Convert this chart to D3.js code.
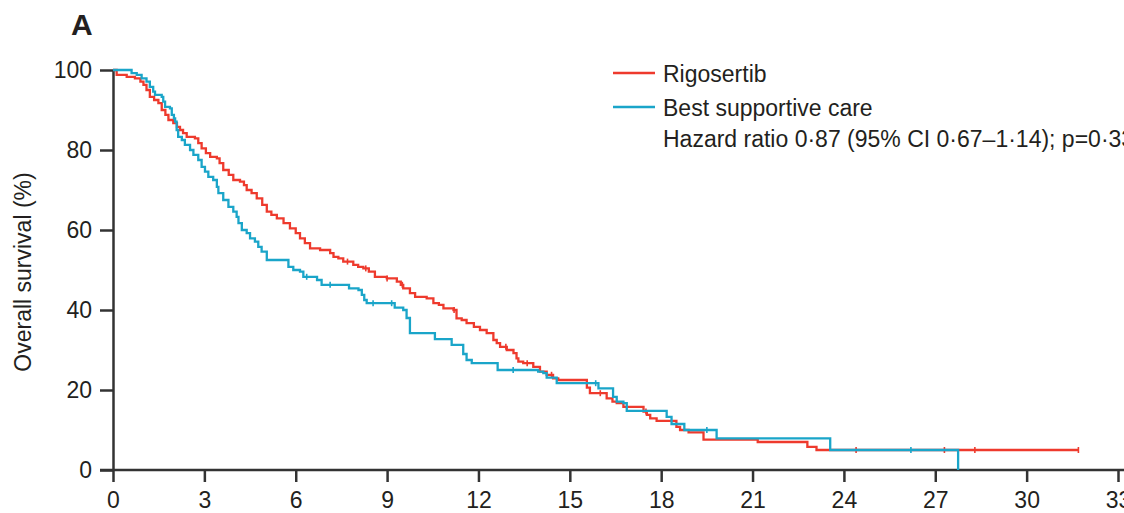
<!DOCTYPE html>
<html>
<head>
<meta charset="utf-8">
<script src="https://cdn.jsdelivr.net/npm/d3@7/dist/d3.min.js"></script>
<style>
  html, body { margin: 0; padding: 0; background: #fff; }
  svg { display: block; }
  text { font-family: "Liberation Sans", Arial, sans-serif; fill: #231f20; }
</style>
</head>
<body>
<svg id="chart" width="1124" height="513"></svg>
<script>
// Kaplan-Meier overall survival, step points [month, survival %]
const rigosertibSteps = [
  [0,100],[0.12,98.8],[0.45,98.3],[0.72,97.9],[0.9,97.1],[1.0,96.3],[1.1,95.0],[1.21,93.3],
  [1.35,92.5],[1.49,91.7],[1.6,90.0],[1.72,88.8],[1.82,87.5],[1.98,86.7],[2.1,85.8],[2.2,85.0],
  [2.3,84.2],[2.42,83.3],[2.69,82.9],[2.8,81.7],[2.91,80.4],[3.05,79.2],[3.19,78.3],[3.41,77.9],
  [3.5,76.7],[3.62,75.0],[3.8,73.8],[3.95,72.5],[4.17,72.1],[4.3,71.2],[4.39,70.0],[4.55,69.2],
  [4.72,67.9],[4.9,66.3],[5.05,64.6],[5.2,63.8],[5.38,62.9],[5.6,61.7],[5.81,60.4],[6.0,59.2],
  [6.14,57.9],[6.3,56.7],[6.47,55.4],[6.8,55.0],[7.13,54.2],[7.24,53.3],[7.4,52.9],[7.56,52.1],
  [7.89,51.3],[8.05,50.8],[8.22,50.4],[8.4,49.6],[8.6,48.3],[8.99,47.9],[9.32,47.1],[9.45,46.3],
  [9.53,45.4],[9.75,44.2],[9.92,43.3],[10.3,42.9],[10.52,41.7],[10.7,41.3],[10.85,40.4],[11.18,40.0],
  [11.28,37.9],[11.45,37.5],[11.61,36.7],[11.85,35.8],[12.05,35.0],[12.27,34.2],[12.49,32.5],[12.6,31.7],
  [12.71,30.8],[12.93,30.0],[13.15,29.2],[13.25,27.9],[13.31,27.1],[13.47,26.7],[13.8,25.8],[14.02,24.6],
  [14.24,23.8],[14.45,22.9],[14.62,22.5],[15.56,20.6],[15.66,19.2],[16.21,17.9],[16.4,17.1],[16.54,16.7],
  [16.76,15.8],[17.42,14.6],[17.53,13.8],[17.64,12.9],[17.85,12.3],[18.5,10.8],[18.62,10.0],[18.9,9.4],
  [19.39,7.6],[21.17,7.0],[22.8,5.8],[23.1,5.0],[31.7,5.0]
];
const bscSteps = [
  [0,100],[0.61,99.2],[0.78,98.8],[0.94,97.9],[1.1,97.1],[1.21,95.8],[1.32,94.6],[1.38,93.8],
  [1.6,93.3],[1.65,92.1],[1.71,90.8],[1.87,90.4],[1.93,88.8],[2.0,87.9],[2.04,87.1],[2.09,85.0],
  [2.14,83.3],[2.26,82.5],[2.36,81.3],[2.53,80.0],[2.64,78.8],[2.8,77.5],[2.91,75.8],[3.02,74.6],
  [3.13,73.3],[3.29,72.5],[3.41,70.8],[3.46,69.2],[3.62,67.5],[3.79,65.8],[3.95,64.6],[4.06,63.3],
  [4.12,61.7],[4.23,60.0],[4.39,59.2],[4.5,57.9],[4.66,57.1],[4.77,55.8],[4.88,54.6],[5.05,52.5],
  [5.76,50.8],[5.92,50.0],[6.14,49.6],[6.25,48.3],[6.7,47.5],[6.85,46.3],[7.75,45.4],[8.06,45.0],
  [8.17,43.8],[8.25,42.5],[8.33,41.7],[9.25,40.6],[9.53,40.0],[9.64,38.0],[9.75,34.2],[10.57,32.7],
  [11.12,31.3],[11.5,29.0],[11.61,27.5],[11.78,26.7],[12.63,25.0],[13.96,24.6],[14.13,24.2],[14.24,23.1],
  [14.57,21.7],[15.94,20.4],[16.42,18.3],[16.54,17.1],[16.76,16.7],[16.87,14.8],[18.18,13.3],[18.34,11.5],
  [18.76,10.0],[19.82,7.9],[23.55,5.0],[27.75,0]
];
// Censored observations (months)
const rigosertibCensored = [7.7, 8.3, 9.0, 9.5, 11.2, 12.9, 13.6, 14.4, 16.0, 17.5, 24.4, 27.3, 28.3, 31.7];
const bscCensored = [6.36, 7.13, 8.54, 9.15, 13.14, 15.85, 19.5, 26.2];

const monthTicks = [0, 3, 6, 9, 12, 15, 18, 21, 24, 27, 30, 33];
const survivalTicks = [0, 20, 40, 60, 80, 100];

const seriesNames = ["Rigosertib", "Best supportive care"];
const seriesColors = ["#ee3a2d", "#1aa5c9"];
const statsText = "Hazard ratio 0·87 (95% CI 0·67–1·14); p=0·33";

const svg = d3.select("#chart");
const x = d3.scaleLinear().domain([0, 33]).range([113, 1118]);
const y = d3.scaleLinear().domain([0, 100]).range([470, 70]);
const axisColor = "#333";

// panel letter
svg.append("text").attr("x", 71).attr("y", 35)
  .style("font-size", "30px").style("font-weight", "bold").text("A");

// y axis
const yAxis = svg.append("g").attr("transform", `translate(${x(0)},0)`)
  .call(d3.axisLeft(y).tickValues(survivalTicks).tickSize(13).tickSizeOuter(0).tickPadding(8));
yAxis.select(".domain").attr("stroke", axisColor).attr("stroke-width", 2.5);
yAxis.selectAll(".tick line").attr("stroke", axisColor).attr("stroke-width", 2.5);
yAxis.selectAll(".tick text").style("font-size", "23px").style("font-family", "Liberation Sans, Arial, sans-serif")
  .attr("fill", "#231f20");

// x axis
const xAxis = svg.append("g").attr("transform", `translate(0,${y(0)})`)
  .call(d3.axisBottom(x).tickValues(monthTicks).tickSize(12).tickSizeOuter(0).tickPadding(10));
xAxis.select(".domain").remove();
xAxis.selectAll(".tick line").attr("stroke", axisColor).attr("stroke-width", 2.5);
xAxis.selectAll(".tick text").style("font-size", "23px").style("font-family", "Liberation Sans, Arial, sans-serif")
  .attr("fill", "#231f20");
svg.append("line").attr("x1", x(0) - 13).attr("x2", 1124)
  .attr("y1", y(0)).attr("y2", y(0))
  .attr("stroke", axisColor).attr("stroke-width", 2.5);

// y axis title
svg.append("text")
  .attr("transform", `translate(31,${272}) rotate(-90)`)
  .attr("text-anchor", "middle")
  .style("font-size", "23px")
  .text("Overall survival (%)");

// survival curves
const line = d3.line().curve(d3.curveStepAfter).x(d => x(d[0])).y(d => y(d[1]));
const stepValue = (steps, t) => {
  let v = steps[0][1];
  for (const s of steps) { if (s[0] <= t) v = s[1]; else break; }
  return v;
};

[[rigosertibSteps, rigosertibCensored, seriesColors[0]], [bscSteps, bscCensored, seriesColors[1]]]
  .forEach(([steps, censored, color]) => {
    svg.append("path").datum(steps)
      .attr("d", line)
      .attr("fill", "none")
      .attr("stroke", color)
      .attr("stroke-width", 2.3);
    svg.append("g").selectAll("line").data(censored).join("line")
      .attr("x1", d => x(d)).attr("x2", d => x(d))
      .attr("y1", d => y(stepValue(steps, d)) - 3)
      .attr("y2", d => y(stepValue(steps, d)) + 3)
      .attr("stroke", color).attr("stroke-width", 1.6);
  });

// legend
const legend = svg.append("g");
seriesNames.forEach((name, i) => {
  const ly = 73 + i * 34;
  legend.append("line").attr("x1", 613).attr("x2", 655).attr("y1", ly).attr("y2", ly)
    .attr("stroke", seriesColors[i]).attr("stroke-width", 2.3);
  legend.append("text").attr("x", 663).attr("y", ly + 9).style("font-size", "23px").text(name);
});
legend.append("text").attr("x", 663).attr("y", 147).style("font-size", "23px").text(statsText);
</script>
</body>
</html>
